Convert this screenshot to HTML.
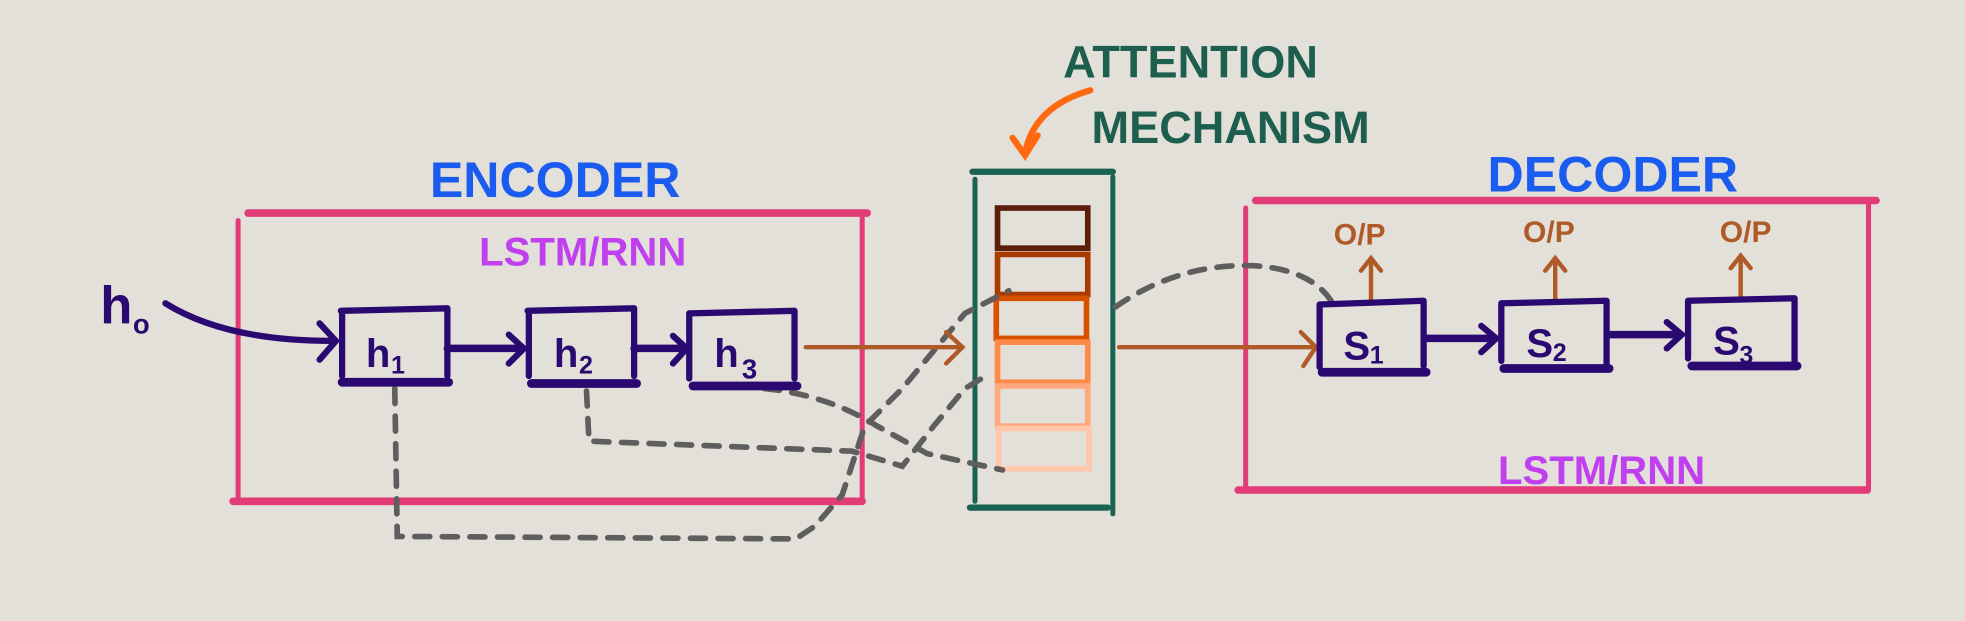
<!DOCTYPE html>
<html><head><meta charset="utf-8"><style>
html,body{margin:0;padding:0;background:#e3dfd9;}
svg{display:block}
text{font-family:"Liberation Sans",sans-serif;}
</style></head><body>
<svg width="1965" height="621" viewBox="0 0 1568 495.5" preserveAspectRatio="none" xmlns="http://www.w3.org/2000/svg">
<rect width="1568" height="496" fill="#e3dfd9"/>
<g stroke-linecap="round" fill="none">
<line x1="198" y1="170" x2="692" y2="170" stroke="#e23c78" stroke-width="6"/>
<line x1="190" y1="176" x2="190" y2="398" stroke="#e23c78" stroke-width="4"/>
<line x1="688" y1="174" x2="688" y2="398" stroke="#e23c78" stroke-width="4"/>
<line x1="186" y1="400" x2="688" y2="400" stroke="#e23c78" stroke-width="6"/>
<line x1="1002" y1="160" x2="1497" y2="160" stroke="#e23c78" stroke-width="6"/>
<line x1="994" y1="166" x2="994" y2="390" stroke="#e23c78" stroke-width="4"/>
<line x1="1491" y1="162" x2="1491" y2="390" stroke="#e23c78" stroke-width="4"/>
<line x1="988" y1="391" x2="1490" y2="391" stroke="#e23c78" stroke-width="6"/>
<line x1="776" y1="137" x2="888" y2="137" stroke="#1a6352" stroke-width="5"/>
<line x1="778" y1="143" x2="778" y2="400" stroke="#1a6352" stroke-width="4"/>
<line x1="888" y1="141" x2="888" y2="410" stroke="#1a6352" stroke-width="4"/>
<line x1="774" y1="405" x2="884" y2="405" stroke="#1a6352" stroke-width="5"/>
<rect x="796" y="166" width="72" height="32" stroke="#5a1e0a" stroke-width="4.5"/>
<rect x="796" y="203" width="72" height="32" stroke="#a83c00" stroke-width="4.5"/>
<rect x="795" y="238" width="72" height="32" stroke="#d95000" stroke-width="4.5"/>
<rect x="796" y="273" width="72" height="32" stroke="#ff8a48" stroke-width="4.5"/>
<rect x="796" y="308" width="72" height="32" stroke="#ffa880" stroke-width="4.5"/>
<rect x="797" y="342" width="72" height="32" stroke="#ffc8aa" stroke-width="4.5"/>
<g stroke="#5e5e5e" stroke-width="4.5" stroke-dasharray="12 10">
<path d="M315 310 L317 428 L635 430 L650 420 L672 395 L690 340 L720 310 L745 280 L770 250 L805 232"/>
<path d="M468 312 L470 352 L680 360 L720 372 L745 340 L770 310 L790 298"/>
<path d="M610 310 Q660 315 700 340 L740 362 L800 375"/>
<path d="M890 245 Q940 210 1000 212 Q1050 215 1065 245"/>
</g>
<g stroke="#b05a28" stroke-width="3.5">
<line x1="643" y1="277" x2="768" y2="277"/><path d="M755 265 L768 277 L755 290"/>
<line x1="893" y1="277" x2="1050" y2="277"/><path d="M1038 265 L1050 277 L1040 292"/>
<line x1="1094" y1="240" x2="1094" y2="207"/><path d="M1086 216 L1094 206 L1102 216"/>
<line x1="1241" y1="240" x2="1241" y2="207"/><path d="M1233 216 L1241 206 L1249 216"/>
<line x1="1389" y1="238" x2="1389" y2="205"/><path d="M1381 214 L1389 204 L1397 214"/>
</g>
<path d="M870 72 Q825 85 818 122" stroke="#ff6a10" stroke-width="5"/>
<path d="M808 110 L818 124 L828 108" stroke="#ff6a10" stroke-width="5"/>
<g stroke="#2a0a70" stroke-width="5">
<path d="M132 242 Q180 272 265 272"/><path d="M255 258 L268 272 L255 287"/>
<path d="M272 248 L357 246 M273 248 L273 300 M357 246 L357 300"/><line x1="273" y1="305" x2="358" y2="305" stroke-width="7"/>
<path d="M421 248 L506 246 M422 248 L422 300 M506 246 L506 300"/><line x1="424" y1="306" x2="508" y2="306" stroke-width="7"/>
<path d="M550 250 L634 248 M550 250 L550 302 M634 248 L634 302"/><line x1="553" y1="308" x2="636" y2="308" stroke-width="7"/>
<line x1="357" y1="278" x2="416" y2="278" stroke-width="6"/><path d="M406 267 L418 278 L406 290"/>
<line x1="506" y1="278" x2="546" y2="278" stroke-width="6"/><path d="M537 268 L548 278 L537 290"/>
<path d="M1053 243 L1136 240 M1053 243 L1053 293 M1136 240 L1136 292"/><line x1="1055" y1="297" x2="1138" y2="297" stroke-width="7"/>
<path d="M1198 242 L1282 240 M1198 242 L1198 288 M1282 240 L1282 292"/><line x1="1200" y1="294" x2="1284" y2="294" stroke-width="7"/>
<path d="M1347 240 L1432 238 M1347 240 L1347 286 M1432 238 L1432 290"/><line x1="1350" y1="292" x2="1434" y2="292" stroke-width="7"/>
<line x1="1138" y1="270" x2="1192" y2="270" stroke-width="6"/><path d="M1182 260 L1194 270 L1182 281"/>
<line x1="1284" y1="267" x2="1340" y2="267" stroke-width="6"/><path d="M1330 257 L1342 267 L1330 278"/>
</g>
</g>
<g font-weight="bold">
<text x="443" y="157" font-size="40" fill="#1a5cf0" text-anchor="middle">ENCODER</text>
<text x="1287" y="153" font-size="40" fill="#1a5cf0" text-anchor="middle">DECODER</text>
<text x="465" y="212" font-size="32" fill="#c040f0" text-anchor="middle">LSTM/RNN</text>
<text x="1278" y="386" font-size="32" fill="#c040f0" text-anchor="middle">LSTM/RNN</text>
<text x="950" y="62" font-size="36" fill="#1e5e4e" text-anchor="middle">ATTENTION</text>
<text x="982" y="114" font-size="36" fill="#1e5e4e" text-anchor="middle">MECHANISM</text>
<text x="80" y="258" font-size="42" fill="#2a0a70">h</text><text x="106" y="266" font-size="22" fill="#2a0a70">o</text>
<text x="292" y="293" font-size="32" fill="#2a0a70">h</text><text x="312" y="298" font-size="20" fill="#2a0a70">1</text>
<text x="442" y="293" font-size="32" fill="#2a0a70">h</text><text x="462" y="298" font-size="20" fill="#2a0a70">2</text>
<text x="570" y="293" font-size="32" fill="#2a0a70">h</text><text x="592" y="302" font-size="22" fill="#2a0a70">3</text>
<text x="1072" y="287" font-size="32" fill="#2a0a70">S</text><text x="1093" y="290" font-size="20" fill="#2a0a70">1</text>
<text x="1218" y="285" font-size="32" fill="#2a0a70">S</text><text x="1239" y="288" font-size="20" fill="#2a0a70">2</text>
<text x="1367" y="283" font-size="32" fill="#2a0a70">S</text><text x="1388" y="290" font-size="20" fill="#2a0a70">3</text>
<text x="1085" y="195" font-size="24" fill="#b05a28" text-anchor="middle">O/P</text>
<text x="1236" y="193" font-size="24" fill="#b05a28" text-anchor="middle">O/P</text>
<text x="1393" y="193" font-size="24" fill="#b05a28" text-anchor="middle">O/P</text>
</g>
</svg>
</body></html>
